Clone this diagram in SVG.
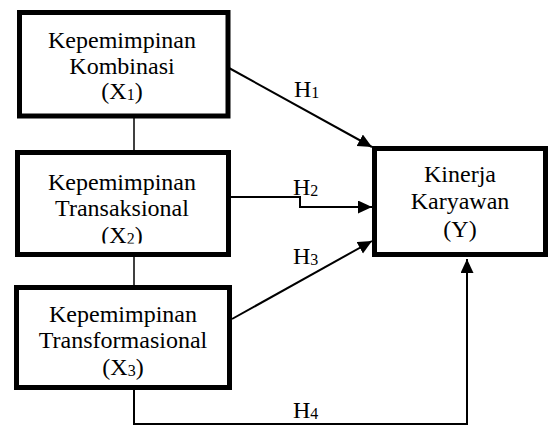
<svg xmlns="http://www.w3.org/2000/svg" width="550" height="428" viewBox="0 0 550 428">
<style>
.box{fill:#fff;stroke:#000;stroke-width:5}
.t{font-family:"Liberation Serif","Times New Roman",serif;font-size:24px;fill:#000;text-anchor:middle}
.h{font-family:"Liberation Serif","Times New Roman",serif;font-size:24px;fill:#000}
.sub{font-size:16px}
.c{fill:none;stroke:#000;stroke-width:2}
.thin{fill:none;stroke:#000;stroke-width:1.5}
</style>
<defs>
<marker id="ah" markerUnits="userSpaceOnUse" markerWidth="15" markerHeight="14" refX="14" refY="6.5" orient="auto">
<path d="M0,0 L14,6.5 L0,13 z" fill="#000"/>
</marker>
<clipPath id="clipX2"><rect x="20" y="150" width="210" height="93.5"/></clipPath>
</defs>
<g id="connectors">
<line class="thin" x1="134" y1="118" x2="134" y2="152"/>
<line class="thin" x1="134" y1="255" x2="134" y2="287"/>
<line class="c" x1="229" y1="68" x2="372" y2="147" marker-end="url(#ah)"/>
<polyline class="c" points="231,197 300,197 300,207 372,207" marker-end="url(#ah)"/>
<line class="c" x1="232" y1="319" x2="372" y2="241" marker-end="url(#ah)"/>
<polyline class="c" points="134,384 134,424 467,424 467,259" marker-end="url(#ah)"/>
<text class="h" x="294" y="97">H<tspan class="sub" dy="1">1</tspan></text>
<text class="h" x="293" y="195">H<tspan class="sub" dy="1">2</tspan></text>
<text class="h" x="293" y="264">H<tspan class="sub" dy="1">3</tspan></text>
<text class="h" x="293" y="418">H<tspan class="sub" dy="1">4</tspan></text>
</g>
<g id="X1">
<rect class="box" x="19.5" y="12.5" width="208.5" height="103.5"/>
<text class="t" x="122" y="48">Kepemimpinan</text>
<text class="t" x="122" y="74">Kombinasi</text>
<text class="t" x="122" y="99">(X<tspan class="sub" dy="1">1</tspan><tspan dy="-1">)</tspan></text>
</g>
<g id="X2">
<rect class="box" x="17.5" y="152.5" width="211" height="102"/>
<text class="t" x="122" y="190">Kepemimpinan</text>
<text class="t" x="122" y="216">Transaksional</text>
<text class="t" x="122" y="243" clip-path="url(#clipX2)">(X<tspan class="sub" dy="1">2</tspan><tspan dy="-1">)</tspan></text>
</g>
<g id="X3">
<rect class="box" x="16.5" y="287.5" width="213" height="100"/>
<text class="t" x="123" y="322">Kepemimpinan</text>
<text class="t" x="123" y="348">Transformasional</text>
<text class="t" x="123" y="375">(X<tspan class="sub" dy="1">3</tspan><tspan dy="-1">)</tspan></text>
</g>
<g id="Y">
<rect class="box" x="374.5" y="148.5" width="171" height="106"/>
<text class="t" x="460" y="182">Kinerja</text>
<text class="t" x="460" y="209">Karyawan</text>
<text class="t" x="460" y="237">(Y)</text>
</g>
</svg>
